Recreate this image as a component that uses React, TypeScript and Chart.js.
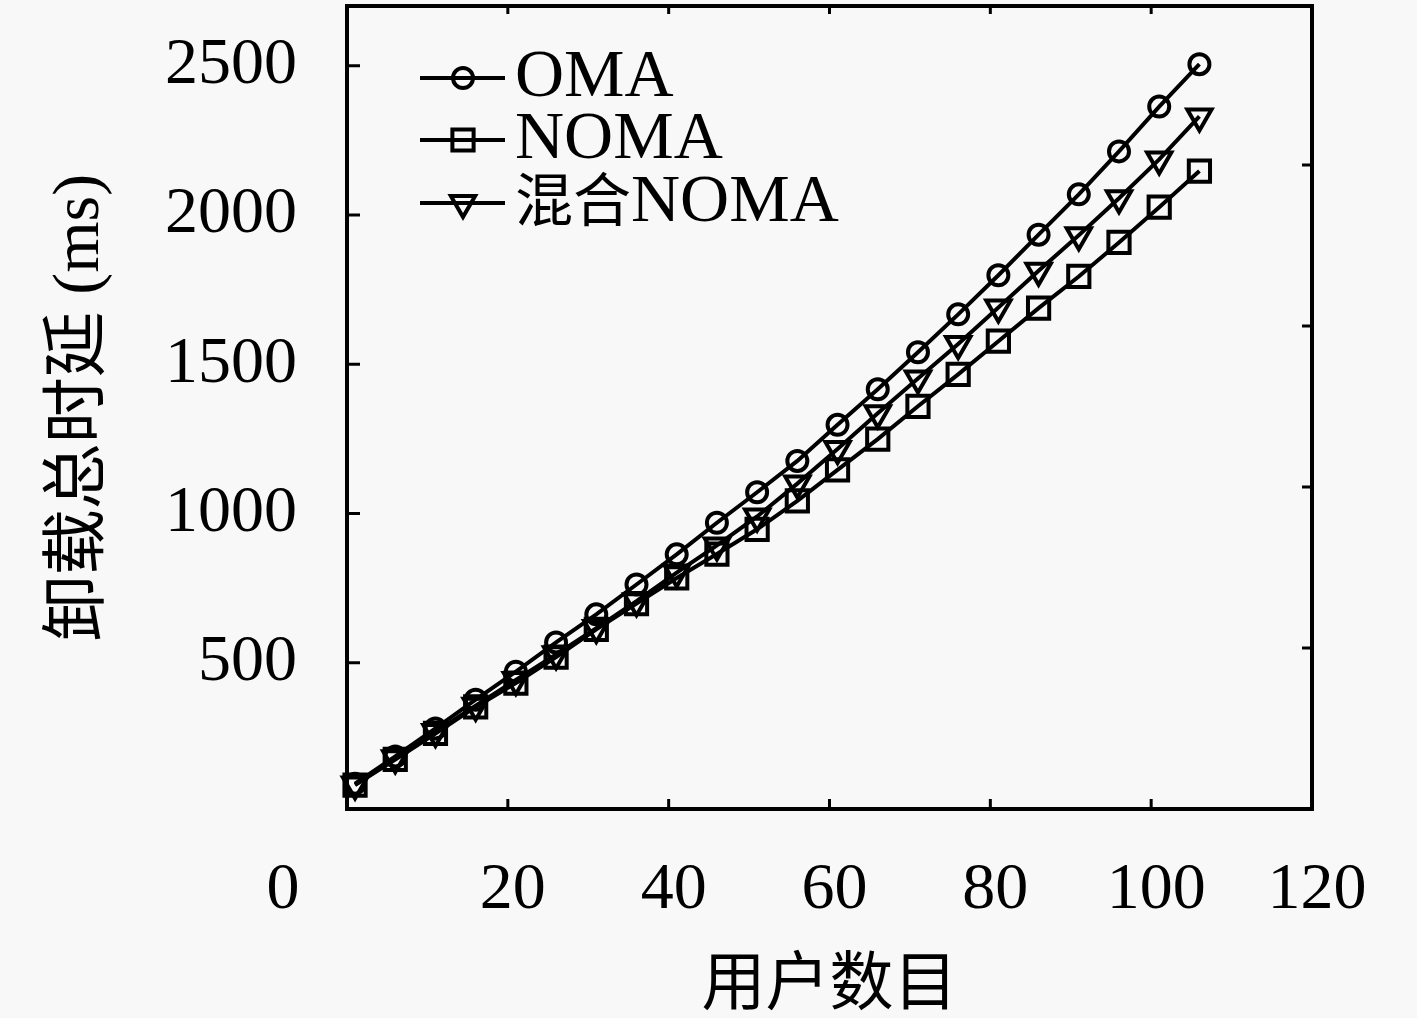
import React, { useEffect, useRef } from "react";
import { Chart, registerables } from "chart.js";

Chart.register(...registerables);

// ---------- data ----------
const userCounts = [1, 6, 11, 16, 21, 26, 31, 36, 41, 46, 51, 56, 61, 66, 71, 76, 81, 86, 91, 96, 101, 106];
const omaDelay = [95, 186, 280, 376, 470, 568, 662, 762, 863, 969, 1071, 1176, 1297, 1416, 1540, 1667, 1798, 1934, 2069, 2213, 2363, 2505];
const nomaDelay = [90, 176, 263, 352, 432, 519, 612, 698, 784, 864, 947, 1042, 1146, 1249, 1359, 1466, 1577, 1688, 1794, 1908, 2026, 2147];
const hybridNomaDelay = [92, 180, 268, 356, 442, 528, 616, 706, 802, 893, 990, 1100, 1216, 1336, 1452, 1568, 1690, 1813, 1932, 2056, 2186, 2330];
const seriesNames = ["OMA", "NOMA", "混合NOMA"];
const xTicks = [0, 20, 40, 60, 80, 100, 120];
const yTicks = [500, 1000, 1500, 2000, 2500];
const rightTicks = [20, 40, 60, 80];
const xTitle = "用户数目";
const yTitle = "卸载总时延 (ms)";

// ---------- styles ----------
const W = 1417;
const H = 1018;
const BG = "#f8f8f8";
const SERIF = "'Liberation Serif', 'Noto Sans CJK SC', serif";
const CJK = "'Noto Sans CJK SC', sans-serif";
const LW = 4;
const markers = [
  { style: "circle", radius: 10, rotation: 0 },
  { style: "rect", radius: 15, rotation: 0 },
  { style: "triangle", radius: 14, rotation: 180 },
];

function drawMarker(ctx: CanvasRenderingContext2D, style: string, r: number, rot: number, x: number, y: number) {
  ctx.beginPath();
  if (style === "circle") {
    ctx.arc(x, y, r, 0, Math.PI * 2);
  } else if (style === "rect") {
    const s = r * Math.SQRT1_2;
    ctx.rect(x - s, y - s, 2 * s, 2 * s);
  } else {
    let rad = (rot * Math.PI) / 180;
    ctx.moveTo(x + Math.sin(rad) * r, y - Math.cos(rad) * r);
    rad += (2 * Math.PI) / 3;
    ctx.lineTo(x + Math.sin(rad) * r, y - Math.cos(rad) * r);
    rad += (2 * Math.PI) / 3;
    ctx.lineTo(x + Math.sin(rad) * r, y - Math.cos(rad) * r);
    ctx.closePath();
  }
  ctx.stroke();
}

function drawMixed(ctx: CanvasRenderingContext2D, text: string, x: number, y: number) {
  const runs = text.match(/[\u4e00-\u9fff]+|[^\u4e00-\u9fff]+/g) || [];
  let cx = x;
  for (const run of runs) {
    const isCjk = /[\u4e00-\u9fff]/.test(run);
    ctx.font = isCjk ? `58px ${CJK}` : `68px ${SERIF}`;
    ctx.fillText(run, cx, y);
    cx += ctx.measureText(run).width;
  }
}

const framePlugin = {
  id: "framePlugin",
  beforeDraw(chart: any) {
    const ctx = chart.ctx;
    ctx.save();
    ctx.fillStyle = BG;
    ctx.fillRect(0, 0, chart.width, chart.height);
    ctx.restore();
  },
  afterDraw(chart: any) {
    const { ctx, chartArea: a, scales } = chart;
    ctx.save();
    ctx.strokeStyle = "#000";
    ctx.lineWidth = LW;
    ctx.strokeRect(a.left, a.top, a.right - a.left, a.bottom - a.top);

    // inward tick marks
    ctx.lineWidth = 3;
    ctx.beginPath();
    for (const v of xTicks) {
      if (v <= 0 || v >= 120) continue;
      const px = scales.x.getPixelForValue(v);
      ctx.moveTo(px, a.bottom);
      ctx.lineTo(px, a.bottom - 10);
      ctx.moveTo(px, a.top);
      ctx.lineTo(px, a.top + 8);
    }
    for (const v of yTicks) {
      const py = scales.y.getPixelForValue(v);
      ctx.moveTo(a.left, py);
      ctx.lineTo(a.left + 13, py);
    }
    for (const v of rightTicks) {
      const py = scales.y2.getPixelForValue(v);
      ctx.moveTo(a.right, py);
      ctx.lineTo(a.right - 10, py);
    }
    ctx.stroke();

    // x tick labels
    ctx.fillStyle = "#000";
    ctx.font = `66px ${SERIF}`;
    ctx.textAlign = "center";
    ctx.textBaseline = "alphabetic";
    for (const v of xTicks) {
      const px = scales.x.getPixelForValue(v) + (v === 0 ? -64 : 5);
      ctx.fillText(String(v), px, 908);
    }

    // legend
    const lx0 = a.left + 73;
    const lx1 = a.left + 158;
    const mx = a.left + 116;
    const tx = a.left + 168;
    const rows = [78, 140, 203];
    ctx.textAlign = "left";
    chart.data.datasets.forEach((ds: any, i: number) => {
      const y = rows[i];
      ctx.lineWidth = LW;
      ctx.beginPath();
      ctx.moveTo(lx0, y);
      ctx.lineTo(lx1, y);
      ctx.stroke();
      const m = markers[i];
      drawMarker(ctx, m.style, m.radius, m.rotation, mx, y);
      drawMixed(ctx, ds.label, tx, y + 18);
    });
    ctx.restore();
  },
};

const zeroPad = (s: any) => {
  s.paddingTop = 0;
  s.paddingBottom = 0;
  s.paddingLeft = 0;
  s.paddingRight = 0;
};

export default function App() {
  const ref = useRef<HTMLCanvasElement | null>(null);

  useEffect(() => {
    const canvas = ref.current;
    if (!canvas) return;
    const seriesValues = [omaDelay, nomaDelay, hybridNomaDelay];
    const chart = new Chart(canvas, {
      type: "line",
      data: {
        datasets: seriesValues.map((vals, i) => ({
          label: seriesNames[i],
          data: userCounts.map((x, j) => ({ x, y: vals[j] })),
          borderColor: "#000",
          borderWidth: LW,
          pointStyle: markers[i].style as any,
          pointRadius: markers[i].radius,
          pointRotation: markers[i].rotation,
          pointBorderWidth: LW,
          pointBorderColor: "#000",
          pointBackgroundColor: "rgba(0,0,0,0)",
          tension: 0,
          clip: false as any,
          yAxisID: "y",
        })),
      },
      options: {
        animation: false,
        responsive: false,
        devicePixelRatio: 1,
        layout: { autoPadding: false, padding: { top: 6, left: 0, right: 0, bottom: 0 } },
        plugins: { legend: { display: false }, tooltip: { enabled: false } },
        scales: {
          x: {
            type: "linear",
            position: "bottom",
            min: 0,
            max: 120,
            ticks: { display: false, stepSize: 20 },
            grid: { display: false, drawTicks: false },
            border: { display: false },
            title: {
              display: true,
              text: xTitle,
              color: "#000",
              font: { family: CJK, size: 64, lineHeight: 1.2 },
              padding: { top: 0, bottom: 0 },
            },
            afterFit: (s: any) => {
              s.height = H - 809;
              zeroPad(s);
            },
          },
          y: {
            type: "linear",
            position: "left",
            min: 10,
            max: 2700,
            afterBuildTicks: (s: any) => {
              s.ticks = yTicks.map((v) => ({ value: v }));
            },
            ticks: {
              color: "#000",
              padding: 50,
              font: { family: SERIF, size: 66 },
              callback: (v: any) => String(v),
            },
            grid: { display: false, drawTicks: false },
            border: { display: false },
            title: {
              display: true,
              text: yTitle,
              color: "#000",
              font: { family: SERIF, size: 66, lineHeight: 1.2 },
              padding: { top: 41, bottom: 0 },
            },
            afterFit: (s: any) => {
              s.width = 347;
              zeroPad(s);
            },
          },
          y2: {
            type: "linear",
            position: "right",
            min: 0,
            max: 99.75,
            ticks: { display: false },
            grid: { display: false, drawTicks: false },
            border: { display: false },
            afterFit: (s: any) => {
              s.width = W - 1312;
              zeroPad(s);
            },
          },
        },
      } as any,
      plugins: [framePlugin],
    });
    return () => chart.destroy();
  }, []);

  return (
    <div style={{ position: "fixed", left: 0, top: 0, width: W, height: H, background: BG }}>
      <canvas ref={ref} width={W} height={H} style={{ width: W, height: H, display: "block" }} />
    </div>
  );
}
